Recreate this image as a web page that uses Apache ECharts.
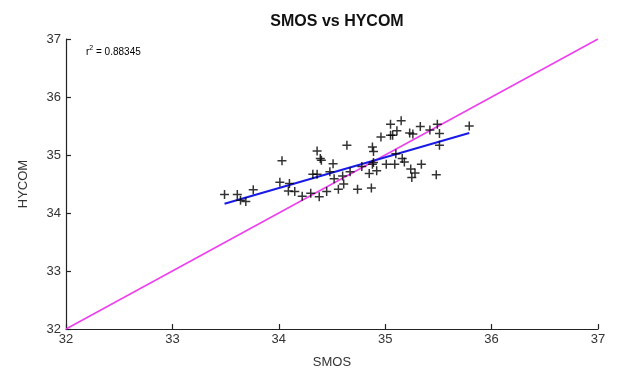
<!DOCTYPE html>
<html>
<head>
<meta charset="utf-8">
<script src="https://cdn.jsdelivr.net/npm/echarts@6/dist/echarts.min.js"></script>
<style>
  html, body { margin: 0; padding: 0; background: #fff; }
  #chart { width: 620px; height: 374px; }
</style>
</head>
<body>
<div id="chart"></div>
<script>
// Sea surface salinity: SMOS retrievals against HYCOM model values
const smos = [
  33.49, 33.61, 33.64, 33.69, 33.76, 34.03, 34.01, 34.10, 34.09, 34.15,
  34.22, 34.30, 34.38, 34.45, 34.56, 34.61, 34.52, 34.60, 34.32, 34.36,
  34.48, 34.51, 34.36, 34.39, 34.40, 34.64, 34.67, 34.74, 34.87, 34.78,
  34.85, 34.92, 34.88, 34.89, 34.88, 34.89, 34.96, 35.05, 35.15, 35.05,
  35.07, 35.11, 35.23, 35.26, 35.33, 35.42, 35.49, 35.51, 35.51, 35.79,
  35.01, 35.09, 35.10, 35.16, 35.18, 35.24, 35.28, 35.25, 35.34, 35.48
];
const hycom = [
  34.32, 34.32, 34.22, 34.20, 34.40, 34.90, 34.53, 34.51, 34.38, 34.37,
  34.29, 34.34, 34.28, 34.37, 34.41, 34.50, 34.59, 34.64, 34.67, 34.67,
  34.71, 34.85, 35.07, 34.94, 34.91, 35.17, 34.71, 34.41, 34.43, 34.80,
  34.68, 34.73, 34.84, 34.87, 35.14, 35.06, 35.31, 35.53, 35.59, 35.34,
  35.34, 35.42, 35.38, 35.36, 35.49, 35.43, 35.53, 35.37, 35.17, 35.50,
  34.84, 34.84, 35.02, 34.94, 34.88, 34.76, 34.69, 34.61, 34.84, 34.66
];
// least-squares fit segment across the SMOS range
const fitX = [33.49, 35.79];
const fitY = [34.16, 35.38];
// one-to-one reference line
const oneToOne = [32, 37];
const axisTicks = [32, 33, 34, 35, 36, 37];
const r2Text = '0.88345';

const points = smos.map((x, i) => [x, hycom[i]]);
const fitLine = fitX.map((x, i) => [x, fitY[i]]);
const diagLine = oneToOne.map(v => [v, v]);

const plus = 'path://M3.75,0h1.5v3.75h3.75v1.5h-3.75v3.75h-1.5v-3.75h-3.75v-1.5h3.75z';
const FONT = '"Liberation Sans", Arial, sans-serif';

const axisCommon = {
  type: 'value',
  min: axisTicks[0],
  max: axisTicks[axisTicks.length - 1],
  interval: 1,
  splitLine: { show: false },
  axisLine: { show: true, lineStyle: { color: '#222', width: 1.2 } },
  axisTick: { show: true, inside: true, length: 5, lineStyle: { color: '#222', width: 1.2 } },
  axisLabel: { color: '#333', fontSize: 13, fontFamily: FONT },
  nameTextStyle: { color: '#333', fontSize: 13, fontFamily: FONT }
};

const chart = echarts.init(document.getElementById('chart'), null, { renderer: 'canvas' });
chart.setOption({
  animation: false,
  backgroundColor: '#fff',
  title: {
    text: 'SMOS vs HYCOM',
    left: 332, top: 9, textAlign: 'center',
    textStyle: { fontSize: 16, fontWeight: 'bold', color: '#111', fontFamily: FONT }
  },
  grid: { left: 66, right: 22, top: 39, bottom: 45 },
  xAxis: Object.assign({}, axisCommon, {
    name: 'SMOS', nameLocation: 'middle', nameGap: 27,
    axisLabel: Object.assign({}, axisCommon.axisLabel, { margin: 4 })
  }),
  yAxis: Object.assign({}, axisCommon, {
    name: 'HYCOM', nameLocation: 'middle', nameGap: 36,
    axisLabel: Object.assign({}, axisCommon.axisLabel, { margin: 5 })
  }),
  graphic: [{
    type: 'text', left: 86, top: 45,
    style: {
      text: '{r|r}{s|2}{r| = ' + r2Text + '}',
      rich: {
        r: { fontSize: 10, fontFamily: FONT, fill: '#000', verticalAlign: 'bottom' },
        s: { fontSize: 7, fontFamily: FONT, fill: '#000', verticalAlign: 'top', padding: [0, 0, 5, 0] }
      }
    }
  }],
  series: [
    {
      type: 'line', data: diagLine, symbol: 'none', z: 2,
      lineStyle: { color: '#ee3ef0', width: 1.5 }
    },
    {
      type: 'line', data: fitLine, symbol: 'none', z: 3,
      lineStyle: { color: '#1a1ae6', width: 2 }
    },
    {
      type: 'scatter', data: points, symbol: plus, symbolSize: 9, z: 4,
      itemStyle: { color: '#000' }
    }
  ]
});
</script>
</body>
</html>
